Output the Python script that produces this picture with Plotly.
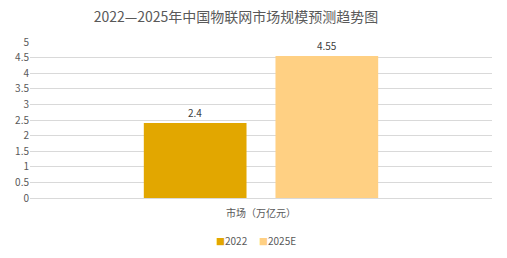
import plotly.graph_objects as go

categories = ["市场（万亿元）"]
series_names = ["2022", "2025E"]
series_values = [[2.4], [4.55]]
colors = ["#E2A700", "#FFD083"]
tick_vals = [0, 0.5, 1, 1.5, 2, 2.5, 3, 3.5, 4, 4.5, 5]
tick_text = ["0", "0.5", "1", "1.5", "2", "2.5", "3", "3.5", "4", "4.5", "5"]

FONT = "Noto Sans CJK SC, Noto Sans, sans-serif"

fig = go.Figure()
for name, vals, c in zip(series_names, series_values, colors):
    fig.add_trace(go.Bar(
        x=categories, y=vals, name=name, marker=dict(color=c, line=dict(width=0)),
        text=[str(v) for v in vals], textposition="outside", cliponaxis=False,
        textfont=dict(size=10, color="#404040", family=FONT),
        showlegend=False,
    ))

# compact legend drawn as text annotations (small coloured squares + series names)
legend_x = [232, 277]
for name, c, px in zip(series_names, colors, legend_x):
    fig.add_annotation(
        xref="paper", yref="paper", x=(px - 30) / 462, y=(198 - 240) / 156,
        text=f"<span style='color:{c};font-size:9px'>■</span>{name}",
        showarrow=False, xanchor="center", yanchor="middle",
        font=dict(size=10, color="#595959", family=FONT),
    )

fig.update_layout(
    width=507, height=258,
    margin=dict(l=30, r=15, t=42, b=60, autoexpand=False),
    paper_bgcolor="white", plot_bgcolor="white",
    barmode="group", bargap=0.43, bargroupgap=0.22,
    title=dict(text="2022—2025年中国物联网市场规模预测趋势图", x=236 / 507, xanchor="center",
               y=0.935, yanchor="middle",
               font=dict(size=14, color="#595959", family=FONT)),
    font=dict(family=FONT, color="#595959", size=10),
    showlegend=False,
    yaxis=dict(range=[0, 5], tickvals=tick_vals, ticktext=tick_text,
               showgrid=True, gridcolor="#D9D9D9", gridwidth=1,
               zeroline=False, showline=False, ticks="",
               tickfont=dict(size=10, color="#595959"), fixedrange=True),
    xaxis=dict(showline=True, linecolor="#D9D9D9", ticks="", ticklabelstandoff=6,
               tickfont=dict(size=10, color="#595959")),
)

fig.write_html("out.html")
